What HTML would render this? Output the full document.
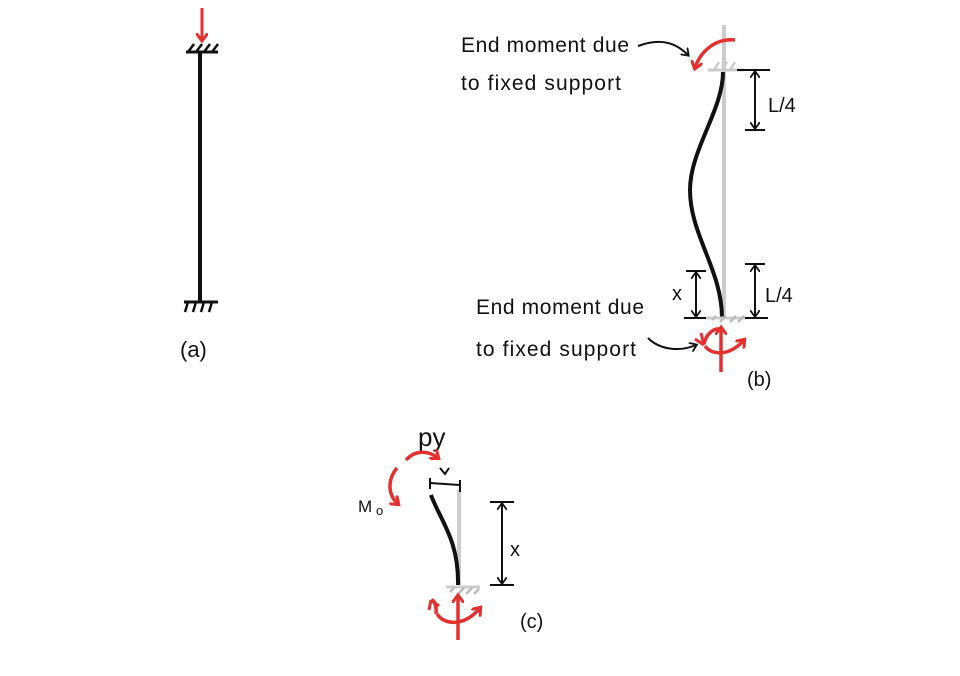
<!DOCTYPE html>
<html><head><meta charset="utf-8"><style>
html,body{margin:0;padding:0;background:#fff;}
svg{display:block;}
text{font-family:"Liberation Sans",sans-serif;fill:#111;}
</style></head><body>
<svg width="960" height="676" viewBox="0 0 960 676" xmlns="http://www.w3.org/2000/svg">
<defs>
<marker id="ab" markerWidth="10" markerHeight="10" refX="6" refY="5" orient="auto-start-reverse" markerUnits="userSpaceOnUse"><path d="M0,0 L7,5 L0,10" fill="none" stroke="#111" stroke-width="1.8"/></marker>
<marker id="ar" markerWidth="12" markerHeight="12" refX="7" refY="6" orient="auto" markerUnits="userSpaceOnUse"><path d="M0,0 L8,6 L0,12" fill="none" stroke="#e53030" stroke-width="3"/></marker>
</defs>
<!-- (a) -->
<line x1="202" y1="8" x2="202" y2="40" stroke="#e53030" stroke-width="3" marker-end="url(#ar)"/>
<line x1="186" y1="52" x2="218" y2="52" stroke="#111" stroke-width="3"/>
<path d="M188,52 l6,-8 M196,52 l6,-8 M204,52 l6,-8 M212,52 l6,-8" stroke="#111" stroke-width="2.5"/>
<line x1="200" y1="52" x2="200" y2="302" stroke="#111" stroke-width="4"/>
<line x1="184" y1="302" x2="218" y2="302" stroke="#111" stroke-width="3"/>
<path d="M188,302 l-3,10 M196,302 l-3,10 M204,302 l-3,10 M212,302 l-3,10" stroke="#111" stroke-width="2.5"/>
<text x="180" y="357" font-size="22">(a)</text>

<!-- (b) -->
<line x1="724" y1="25" x2="724" y2="318" stroke="#ccc" stroke-width="4"/>
<line x1="708" y1="70" x2="744" y2="70" stroke="#ccc" stroke-width="3"/>
<path d="M714,70 l5,-8 M722,70 l5,-8 M730,70 l5,-8" stroke="#ccc" stroke-width="2.5"/>
<path d="M723,72 C723,110 690,150 690,190 C690,235 722,270 722,318" fill="none" stroke="#111" stroke-width="4"/>
<line x1="706" y1="318" x2="746" y2="318" stroke="#ccc" stroke-width="3"/>
<path d="M712,320 l4,-4 M720,322 l6,-6 M730,322 l6,-6 M738,322 l6,-6" stroke="#bbb" stroke-width="2.5"/>
<path d="M735,40 C715,38 700,52 695,68" fill="none" stroke="#e53030" stroke-width="3.5" marker-end="url(#ar)"/>
<line x1="737" y1="70" x2="770" y2="70" stroke="#111" stroke-width="2"/>
<line x1="755" y1="72" x2="755" y2="128" stroke="#111" stroke-width="2" marker-start="url(#ab)" marker-end="url(#ab)"/>
<line x1="745" y1="130" x2="765" y2="130" stroke="#111" stroke-width="2"/>
<text x="768" y="112" font-size="20">L/4</text>
<line x1="745" y1="264" x2="765" y2="264" stroke="#111" stroke-width="2"/>
<line x1="755" y1="266" x2="755" y2="316" stroke="#111" stroke-width="2" marker-start="url(#ab)" marker-end="url(#ab)"/>
<line x1="745" y1="318" x2="768" y2="318" stroke="#111" stroke-width="2"/>
<text x="765" y="302" font-size="20">L/4</text>
<line x1="686" y1="271" x2="706" y2="271" stroke="#111" stroke-width="2"/>
<line x1="696" y1="273" x2="696" y2="316" stroke="#111" stroke-width="2" marker-start="url(#ab)" marker-end="url(#ab)"/>
<line x1="684" y1="318" x2="706" y2="318" stroke="#111" stroke-width="2"/>
<text x="672" y="300" font-size="20">x</text>
<path d="M704,344 C706,334 715,326 722,330" fill="none" stroke="#e53030" stroke-width="3.5"/>
<path d="M704,345 l-3,-12 M704,345 l-9,-6" stroke="#e53030" stroke-width="3"/>
<line x1="721" y1="372" x2="721" y2="328" stroke="#e53030" stroke-width="3.5" marker-end="url(#ar)"/>
<path d="M705,346 C712,356 730,356 744,340" fill="none" stroke="#e53030" stroke-width="3.5" marker-end="url(#ar)"/>
<text x="747" y="386" font-size="20">(b)</text>
<text x="461" y="52" font-size="21" textLength="168">End moment due</text>
<text x="461" y="90" font-size="21" textLength="160">to fixed support</text>
<path d="M638,46 C660,38 675,42 688,55" fill="none" stroke="#111" stroke-width="2" marker-end="url(#ab)"/>
<text x="476" y="314" font-size="21" textLength="168">End moment due</text>
<text x="476" y="356" font-size="21" textLength="160">to fixed support</text>
<path d="M648,338 C660,350 680,352 696,345" fill="none" stroke="#111" stroke-width="2" marker-end="url(#ab)"/>

<!-- (c) -->
<line x1="459" y1="490" x2="459" y2="585" stroke="#ccc" stroke-width="4"/>
<path d="M431,495 C440,520 459,540 458,585" fill="none" stroke="#111" stroke-width="4"/>
<line x1="430" y1="483" x2="460" y2="485" stroke="#111" stroke-width="2"/>
<line x1="430" y1="478" x2="430" y2="489" stroke="#111" stroke-width="2"/>
<line x1="460" y1="480" x2="460" y2="492" stroke="#111" stroke-width="2"/>
<path d="M440,468 l5,6 l4,-6" fill="none" stroke="#111" stroke-width="2"/>
<text x="418" y="446" font-size="26">py</text>
<path d="M406,460 C415,450 428,450 438,458" fill="none" stroke="#e53030" stroke-width="3.5" marker-end="url(#ar)"/>
<path d="M397,468 C387,480 388,495 398,504" fill="none" stroke="#e53030" stroke-width="3.5" marker-end="url(#ar)"/>
<text x="358" y="512" font-size="17">M</text><text x="376" y="515" font-size="13">o</text>
<line x1="490" y1="502" x2="514" y2="502" stroke="#111" stroke-width="2"/>
<line x1="502" y1="504" x2="502" y2="583" stroke="#111" stroke-width="2" marker-start="url(#ab)" marker-end="url(#ab)"/>
<line x1="490" y1="585" x2="514" y2="585" stroke="#111" stroke-width="2"/>
<text x="510" y="556" font-size="20">x</text>
<line x1="446" y1="587" x2="480" y2="587" stroke="#ccc" stroke-width="3"/>
<path d="M450,592 l5,-5 M458,594 l6,-6 M466,594 l6,-6 M474,594 l5,-5" stroke="#bbb" stroke-width="2.5"/>
<path d="M436,614 C437,604 433,600 432,600" fill="none" stroke="#e53030" stroke-width="3.5"/>
<path d="M431,600 l-2,10 M431,600 l8,6" stroke="#e53030" stroke-width="3"/>
<line x1="458" y1="640" x2="458" y2="596" stroke="#e53030" stroke-width="3.5" marker-end="url(#ar)"/>
<path d="M437,614 C445,626 465,626 480,608" fill="none" stroke="#e53030" stroke-width="3.5" marker-end="url(#ar)"/>
<text x="520" y="628" font-size="20">(c)</text>
</svg>
</body></html>
